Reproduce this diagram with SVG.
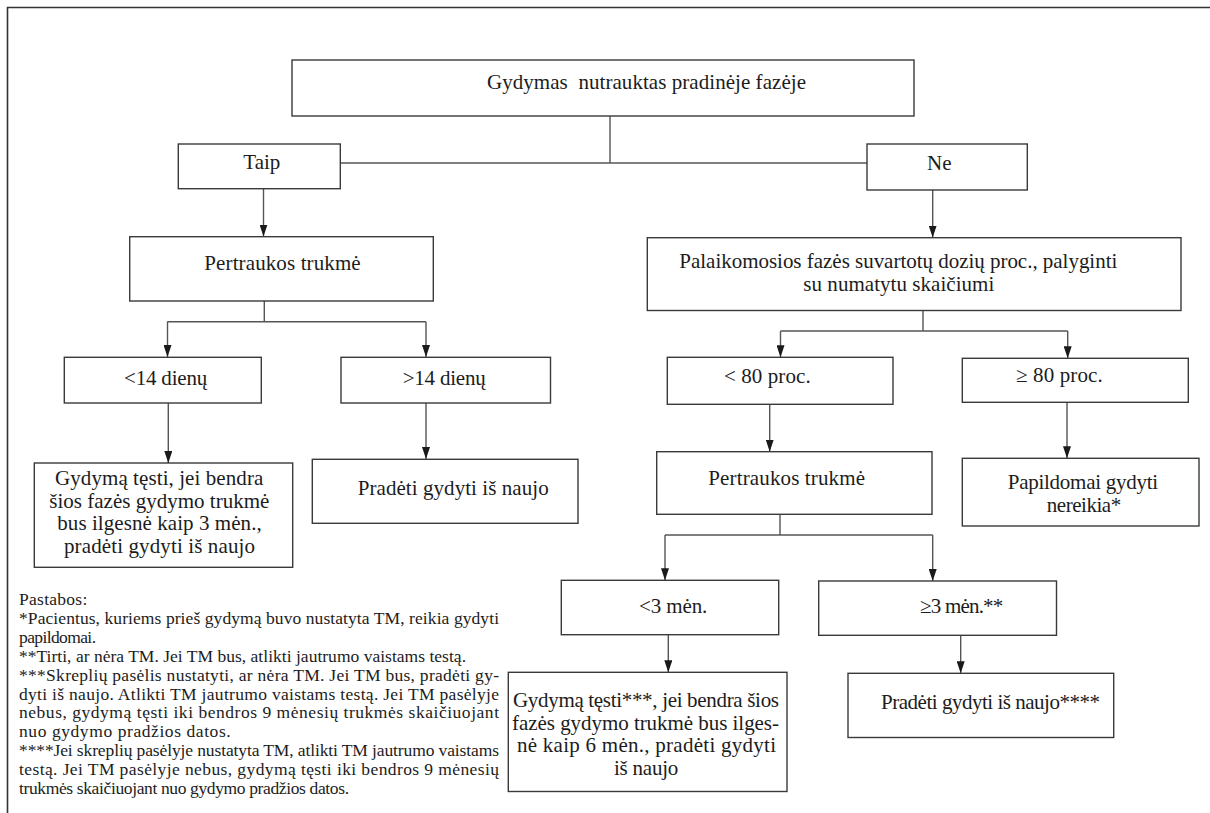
<svg xmlns="http://www.w3.org/2000/svg" width="1210" height="813" viewBox="0 0 1210 813">
<defs>
<style>
.box{fill:#fff;stroke:#3a3a3a;stroke-width:1.4}
.t{font-family:"Liberation Serif","Times New Roman",serif;font-size:21px;fill:#1c1c1c}
.n{font-family:"Liberation Serif","Times New Roman",serif;font-size:17.5px;fill:#1c1c1c}
.c{fill:none;stroke:#555;stroke-width:1.4}
.frame{fill:none;stroke:#333;stroke-width:1.6}
</style>
<marker id="ah" markerUnits="userSpaceOnUse" markerWidth="12" markerHeight="8" refX="12" refY="4" orient="auto" viewBox="0 0 12 8">
<path d="M0,0 L12,4 L0,8 z" fill="#1a1a1a"/>
</marker>
</defs>
<rect width="1210" height="813" fill="#fff"/>
<path class="frame" d="M7.5,813 V7.5 H1210"/>

<g id="connectors">
<path class="c" d="M610,116 V163 M340,163 H867"/>
<path class="c" d="M263.5,189 V236.5" marker-end="url(#ah)"/>
<path class="c" d="M932.7,190 V237.5" marker-end="url(#ah)"/>
<path class="c" d="M264.3,301 V321.7 M167.3,321.7 H426"/>
<path class="c" d="M167.5,321.7 V357" marker-end="url(#ah)"/>
<path class="c" d="M426,321.7 V357" marker-end="url(#ah)"/>
<path class="c" d="M168.3,403 V463" marker-end="url(#ah)"/>
<path class="c" d="M426,403 V459" marker-end="url(#ah)"/>
<path class="c" d="M923,310.5 V331 M780.5,331 H1067.7"/>
<path class="c" d="M780.5,331 V357.3" marker-end="url(#ah)"/>
<path class="c" d="M1067.7,331 V358.3" marker-end="url(#ah)"/>
<path class="c" d="M769.7,404.3 V451.7" marker-end="url(#ah)"/>
<path class="c" d="M1067,402.3 V458.3" marker-end="url(#ah)"/>
<path class="c" d="M780,514.3 V535 M665,535 H932.7"/>
<path class="c" d="M665,535 V580.3" marker-end="url(#ah)"/>
<path class="c" d="M932.7,535 V581" marker-end="url(#ah)"/>
<path class="c" d="M668.3,634.7 V672.3" marker-end="url(#ah)"/>
<path class="c" d="M960.7,635.3 V673.3" marker-end="url(#ah)"/>
</g>

<g id="root">
<rect class="box" x="292" y="60" width="622" height="56"/>
<text class="t" x="487" y="89" textLength="319" lengthAdjust="spacing" xml:space="preserve">Gydymas  nutrauktas pradinėje fazėje</text>
</g>
<g id="taip">
<rect class="box" x="178.3" y="144" width="162" height="44.7"/>
<text class="t" x="261.8" y="169.3" text-anchor="middle">Taip</text>
</g>
<g id="ne">
<rect class="box" x="867" y="144" width="160.3" height="46"/>
<text class="t" x="939.3" y="170" text-anchor="middle">Ne</text>
</g>
<g id="pertraukos-left">
<rect class="box" x="129.7" y="236.7" width="303.6" height="64.3"/>
<text class="t" x="204.3" y="270" textLength="156.4" lengthAdjust="spacing">Pertraukos trukmė</text>
</g>
<g id="palaikomosios">
<rect class="box" x="647.3" y="237.7" width="533.7" height="72.8"/>
<text class="t" x="679.3" y="268.3" textLength="438" lengthAdjust="spacing">Palaikomosios fazės suvartotų dozių proc., palyginti</text>
<text class="t" x="803.3" y="290.7" textLength="191" lengthAdjust="spacing">su numatytu skaičiumi</text>
</g>
<g id="lt14">
<rect class="box" x="64.3" y="357.3" width="197" height="45.7"/>
<text class="t" x="124" y="385" textLength="83.3" lengthAdjust="spacing">&lt;14 dienų</text>
</g>
<g id="gt14">
<rect class="box" x="341" y="357.3" width="209.5" height="45.7"/>
<text class="t" x="402.7" y="385" textLength="83" lengthAdjust="spacing">&gt;14 dienų</text>
</g>
<g id="lt80">
<rect class="box" x="667.3" y="357.3" width="225.7" height="47"/>
<text class="t" x="724" y="382.7" textLength="86.7" lengthAdjust="spacing">&lt; 80 proc.</text>
</g>
<g id="ge80">
<rect class="box" x="962.3" y="358.3" width="226" height="44"/>
<text class="t" x="1016" y="382" textLength="86.7" lengthAdjust="spacing">≥ 80 proc.</text>
</g>
<g id="testi-3men">
<rect class="box" x="34.3" y="463" width="258.4" height="104.3"/>
<text class="t" x="55" y="484.5" textLength="208.3" lengthAdjust="spacing">Gydymą tęsti, jei bendra</text>
<text class="t" x="49.3" y="507.5" textLength="220" lengthAdjust="spacing">šios fazės gydymo trukmė</text>
<text class="t" x="57.3" y="530" textLength="204.4" lengthAdjust="spacing">bus ilgesnė kaip 3 mėn.,</text>
<text class="t" x="64" y="553" textLength="191" lengthAdjust="spacing">pradėti gydyti iš naujo</text>
</g>
<g id="pradeti-1">
<rect class="box" x="312.3" y="459.3" width="265.7" height="64"/>
<text class="t" x="357.7" y="495" textLength="191" lengthAdjust="spacing">Pradėti gydyti iš naujo</text>
</g>
<g id="pertraukos-right">
<rect class="box" x="656.7" y="451.7" width="275.3" height="62.6"/>
<text class="t" x="708.3" y="485" textLength="156.7" lengthAdjust="spacing">Pertraukos trukmė</text>
</g>
<g id="papildomai">
<rect class="box" x="962.3" y="458.3" width="236.7" height="67.7"/>
<text class="t" x="1007.7" y="488.5" textLength="150.5" lengthAdjust="spacing">Papildomai gydyti</text>
<text class="t" x="1046.8" y="512" textLength="74.4" lengthAdjust="spacing">nereikia*</text>
</g>
<g id="lt3">
<rect class="box" x="561.3" y="580.3" width="217.4" height="54.4"/>
<text class="t" x="639" y="613" textLength="68.3" lengthAdjust="spacing">&lt;3 mėn.</text>
</g>
<g id="ge3">
<rect class="box" x="818.7" y="581" width="237.8" height="54.3"/>
<text class="t" x="920" y="613" textLength="83.3" lengthAdjust="spacing">≥3 mėn.**</text>
</g>
<g id="testi-6men">
<rect class="box" x="508.3" y="672.3" width="278.7" height="119.2"/>
<text class="t" x="513" y="707" textLength="266" lengthAdjust="spacing">Gydymą tęsti***, jei bendra šios</text>
<text class="t" x="512" y="729.5" textLength="267" lengthAdjust="spacing">fazės gydymo trukmė bus ilges-</text>
<text class="t" x="517" y="752" textLength="259" lengthAdjust="spacing">nė kaip 6 mėn., pradėti gydyti</text>
<text class="t" x="614" y="775" textLength="64.3" lengthAdjust="spacing">iš naujo</text>
</g>
<g id="pradeti-2">
<rect class="box" x="848" y="673.3" width="265.7" height="64.2"/>
<text class="t" x="881" y="709" textLength="219" lengthAdjust="spacing">Pradėti gydyti iš naujo****</text>
</g>

<g id="notes">
<text class="n" x="19" y="605" textLength="68.3" lengthAdjust="spacing">Pastabos:</text>
<text class="n" x="19" y="624" textLength="480" lengthAdjust="spacing">*Pacientus, kuriems prieš gydymą buvo nustatyta TM, reikia gydyti</text>
<text class="n" x="19" y="643" textLength="77" lengthAdjust="spacing">papildomai.</text>
<text class="n" x="19" y="662" textLength="447" lengthAdjust="spacing">**Tirti, ar nėra TM. Jei TM bus, atlikti jautrumo vaistams testą.</text>
<text class="n" x="19" y="681" textLength="480" lengthAdjust="spacing">***Skreplių pasėlis nustatyti, ar nėra TM. Jei TM bus, pradėti gy-</text>
<text class="n" x="19" y="699.5" textLength="480" lengthAdjust="spacing">dyti iš naujo. Atlikti TM jautrumo vaistams testą. Jei TM pasėlyje</text>
<text class="n" x="19" y="718" textLength="480" lengthAdjust="spacing">nebus, gydymą tęsti iki bendros 9 mėnesių trukmės skaičiuojant</text>
<text class="n" x="19" y="737" textLength="211.7" lengthAdjust="spacing">nuo gydymo pradžios datos.</text>
<text class="n" x="19" y="756" textLength="480" lengthAdjust="spacing">****Jei skreplių pasėlyje nustatyta TM, atlikti TM jautrumo vaistams</text>
<text class="n" x="19" y="775" textLength="480" lengthAdjust="spacing">testą. Jei TM pasėlyje nebus, gydymą tęsti iki bendros 9 mėnesių</text>
<text class="n" x="19" y="794" textLength="330" lengthAdjust="spacing">trukmės skaičiuojant nuo gydymo pradžios datos.</text>
</g>
</svg>
